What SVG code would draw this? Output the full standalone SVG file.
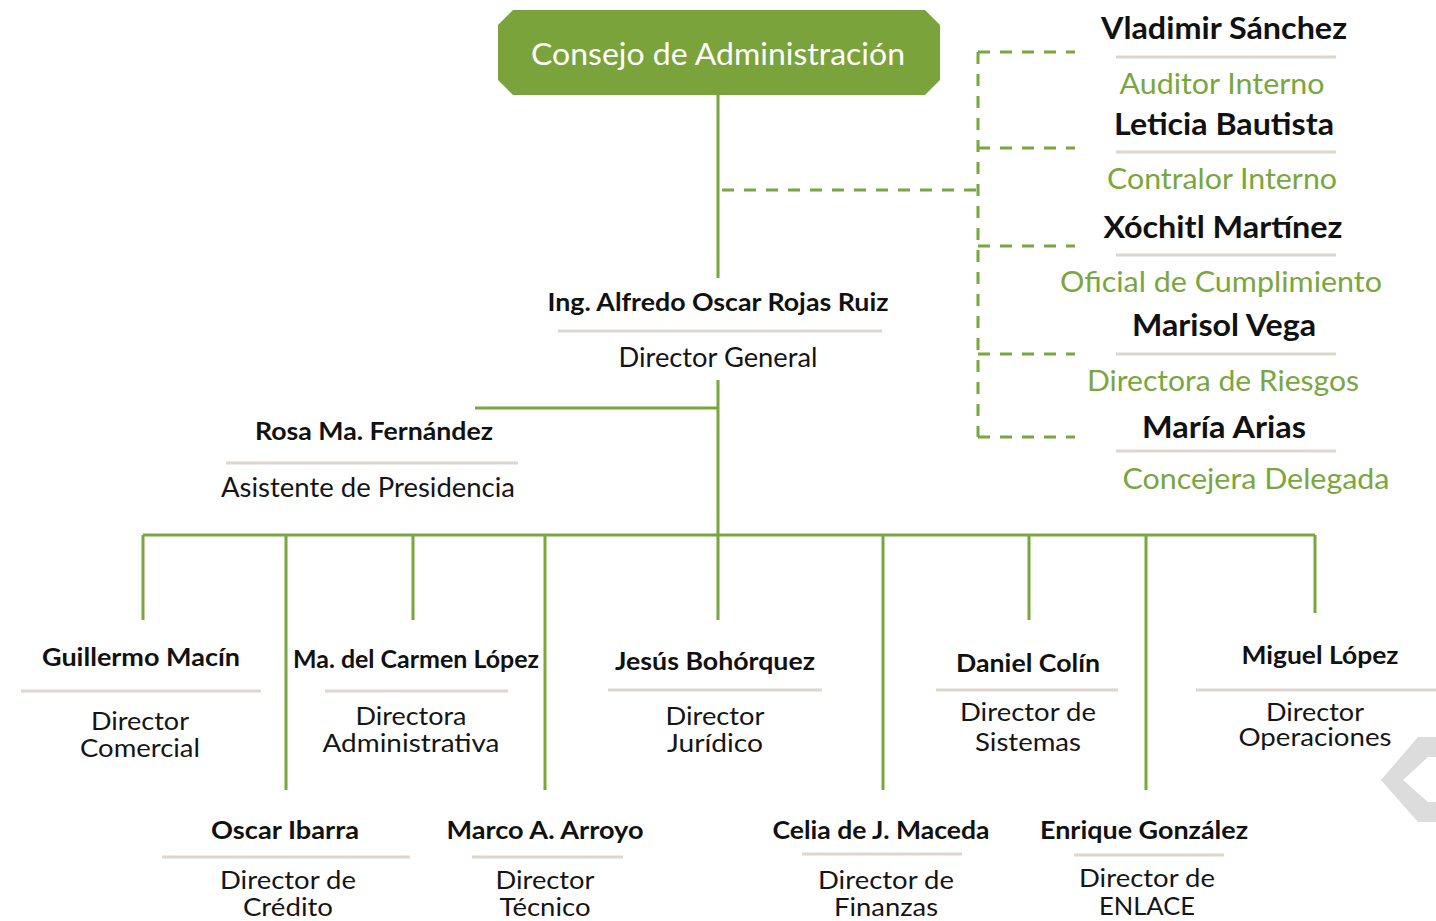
<svg xmlns="http://www.w3.org/2000/svg" width="1436" height="921" viewBox="0 0 1436 921">
<style>
.n{font-family:Lato,"Open Sans",sans-serif;font-weight:700;fill:#111;text-anchor:middle}
.t{font-family:Lato,"Open Sans",sans-serif;font-weight:400;fill:#151515;text-anchor:middle}
.t2{font-family:Lato,"Open Sans",sans-serif;font-weight:400;fill:#151515;text-anchor:middle;font-size:25px}
.g{font-family:Lato,"Open Sans",sans-serif;font-weight:400;fill:#7aa63e;text-anchor:middle;font-size:28px}
.sep{stroke:#ddd6cf;stroke-width:3;fill:none}
.ln{stroke:#7aa63e;stroke-width:3;fill:none}
.dl{stroke:#7aa63e;stroke-width:3;fill:none;stroke-dasharray:12 10}
</style>
<rect width="1436" height="921" fill="#fff"/>
<polygon points="1436,737 1418,737 1381,780 1418,822 1436,822 1436,802 1428,802 1403,780 1428,757 1436,757" fill="#dcdcdc"/>
<g id="connectors">
<path class="ln" d="M718 95V278M718 380V535M475 408H718M143 535H1315M143 535V620M286 535V790M413 535V620M545 535V790M718 535V620M883 535V790M1029 535V620M1146 535V790M1315 535V613"/>
<path class="dl" d="M722 190H978M978 52V437M978 52H1075M978 148H1075M978 246H1075M978 354H1075M978 437H1075"/>
</g>
<g id="consejo">
<polygon points="513,10 925,10 940,25 940,80 925,95 513,95 498,80 498,25" fill="#7aa33b"/>
<text x="718" y="65" font-family="Lato,'Open Sans',sans-serif" font-size="30" fill="#fff" text-anchor="middle" textLength="374" lengthAdjust="spacingAndGlyphs">Consejo de Administración</text>
</g>
<g id="vladimir">
<text class="n" x="1224" y="39" font-size="30" textLength="246" lengthAdjust="spacingAndGlyphs">Vladimir Sánchez</text>
<line class="sep" x1="1116" y1="57" x2="1336" y2="57"/>
<text class="g" x="1222" y="94" textLength="205" lengthAdjust="spacingAndGlyphs">Auditor Interno</text>
</g>
<g id="leticia">
<text class="n" x="1224" y="135" font-size="30" textLength="220" lengthAdjust="spacingAndGlyphs">Leticia Bautista</text>
<line class="sep" x1="1116" y1="152" x2="1336" y2="152"/>
<text class="g" x="1222" y="189" textLength="230" lengthAdjust="spacingAndGlyphs">Contralor Interno</text>
</g>
<g id="xochitl">
<text class="n" x="1223" y="238" font-size="30" textLength="239" lengthAdjust="spacingAndGlyphs">Xóchitl Martínez</text>
<line class="sep" x1="1116" y1="255" x2="1336" y2="255"/>
<text class="g" x="1221" y="292" textLength="322" lengthAdjust="spacingAndGlyphs">Oficial de Cumplimiento</text>
</g>
<g id="marisol">
<text class="n" x="1224" y="336" font-size="30" textLength="184" lengthAdjust="spacingAndGlyphs">Marisol Vega</text>
<line class="sep" x1="1116" y1="354" x2="1336" y2="354"/>
<text class="g" x="1223" y="391" textLength="272" lengthAdjust="spacingAndGlyphs">Directora de Riesgos</text>
</g>
<g id="maria">
<text class="n" x="1224" y="438" font-size="30" textLength="164" lengthAdjust="spacingAndGlyphs">María Arias</text>
<line class="sep" x1="1116" y1="451" x2="1336" y2="451"/>
<text class="g" x="1256" y="489" textLength="267" lengthAdjust="spacingAndGlyphs">Concejera Delegada</text>
</g>
<g id="director-general">
<text class="n" x="718" y="311" font-size="25" textLength="341" lengthAdjust="spacingAndGlyphs">Ing. Alfredo Oscar Rojas Ruiz</text>
<line class="sep" x1="558" y1="331" x2="882" y2="331"/>
<text class="t" x="718" y="367" font-size="26" textLength="199" lengthAdjust="spacingAndGlyphs">Director General</text>
</g>
<g id="rosa">
<text class="n" x="374" y="440" font-size="25" textLength="238" lengthAdjust="spacingAndGlyphs">Rosa Ma. Fernández</text>
<line class="sep" x1="226" y1="463" x2="518" y2="463"/>
<text class="t" x="368" y="497" font-size="26" textLength="294" lengthAdjust="spacingAndGlyphs">Asistente de Presidencia</text>
</g>
<g id="guillermo">
<text class="n" x="141" y="666" font-size="24" textLength="198" lengthAdjust="spacingAndGlyphs">Guillermo Macín</text>
<line class="sep" x1="21" y1="691" x2="261" y2="691"/>
<text class="t2" x="140" y="730" textLength="98" lengthAdjust="spacingAndGlyphs">Director</text>
<text class="t2" x="140" y="757" textLength="120" lengthAdjust="spacingAndGlyphs">Comercial</text>
</g>
<g id="carmen">
<text class="n" x="416" y="668" font-size="24" textLength="246" lengthAdjust="spacingAndGlyphs">Ma. del Carmen López</text>
<line class="sep" x1="325" y1="691" x2="508" y2="691"/>
<text class="t2" x="411" y="725" textLength="111" lengthAdjust="spacingAndGlyphs">Directora</text>
<text class="t2" x="411" y="752" textLength="177" lengthAdjust="spacingAndGlyphs">Administrativa</text>
</g>
<g id="jesus">
<text class="n" x="715" y="670" font-size="24" textLength="200" lengthAdjust="spacingAndGlyphs">Jesús Bohórquez</text>
<line class="sep" x1="608" y1="690" x2="822" y2="690"/>
<text class="t2" x="715" y="725" textLength="99" lengthAdjust="spacingAndGlyphs">Director</text>
<text class="t2" x="715" y="752" textLength="96" lengthAdjust="spacingAndGlyphs">Jurídico</text>
</g>
<g id="daniel">
<text class="n" x="1028" y="672" font-size="24" textLength="144" lengthAdjust="spacingAndGlyphs">Daniel Colín</text>
<line class="sep" x1="936" y1="690" x2="1118" y2="690"/>
<text class="t2" x="1028" y="721" textLength="136" lengthAdjust="spacingAndGlyphs">Director de</text>
<text class="t2" x="1028" y="751" textLength="106" lengthAdjust="spacingAndGlyphs">Sistemas</text>
</g>
<g id="miguel">
<text class="n" x="1320" y="664" font-size="24" textLength="157" lengthAdjust="spacingAndGlyphs">Miguel López</text>
<line class="sep" x1="1196" y1="690" x2="1436" y2="690"/>
<text class="t2" x="1315" y="721" textLength="98" lengthAdjust="spacingAndGlyphs">Director</text>
<text class="t2" x="1315" y="746" textLength="153" lengthAdjust="spacingAndGlyphs">Operaciones</text>
</g>
<g id="oscar">
<text class="n" x="285" y="839" font-size="24" textLength="148" lengthAdjust="spacingAndGlyphs">Oscar Ibarra</text>
<line class="sep" x1="162" y1="857" x2="410" y2="857"/>
<text class="t2" x="288" y="889" textLength="136" lengthAdjust="spacingAndGlyphs">Director de</text>
<text class="t2" x="288" y="916" textLength="90" lengthAdjust="spacingAndGlyphs">Crédito</text>
</g>
<g id="marco">
<text class="n" x="545" y="839" font-size="24" textLength="197" lengthAdjust="spacingAndGlyphs">Marco A. Arroyo</text>
<line class="sep" x1="472" y1="857" x2="623" y2="857"/>
<text class="t2" x="545" y="889" textLength="99" lengthAdjust="spacingAndGlyphs">Director</text>
<text class="t2" x="545" y="916" textLength="91" lengthAdjust="spacingAndGlyphs">Técnico</text>
</g>
<g id="celia">
<text class="n" x="881" y="839" font-size="24" textLength="217" lengthAdjust="spacingAndGlyphs">Celia de J. Maceda</text>
<line class="sep" x1="802" y1="854" x2="962" y2="854"/>
<text class="t2" x="886" y="889" textLength="136" lengthAdjust="spacingAndGlyphs">Director de</text>
<text class="t2" x="886" y="916" textLength="104" lengthAdjust="spacingAndGlyphs">Finanzas</text>
</g>
<g id="enrique">
<text class="n" x="1144" y="839" font-size="24" textLength="208" lengthAdjust="spacingAndGlyphs">Enrique González</text>
<line class="sep" x1="1074" y1="855" x2="1224" y2="855"/>
<text class="t2" x="1147" y="887" textLength="136" lengthAdjust="spacingAndGlyphs">Director de</text>
<text class="t2" x="1147" y="915" textLength="96" lengthAdjust="spacingAndGlyphs">ENLACE</text>
</g>
</svg>
